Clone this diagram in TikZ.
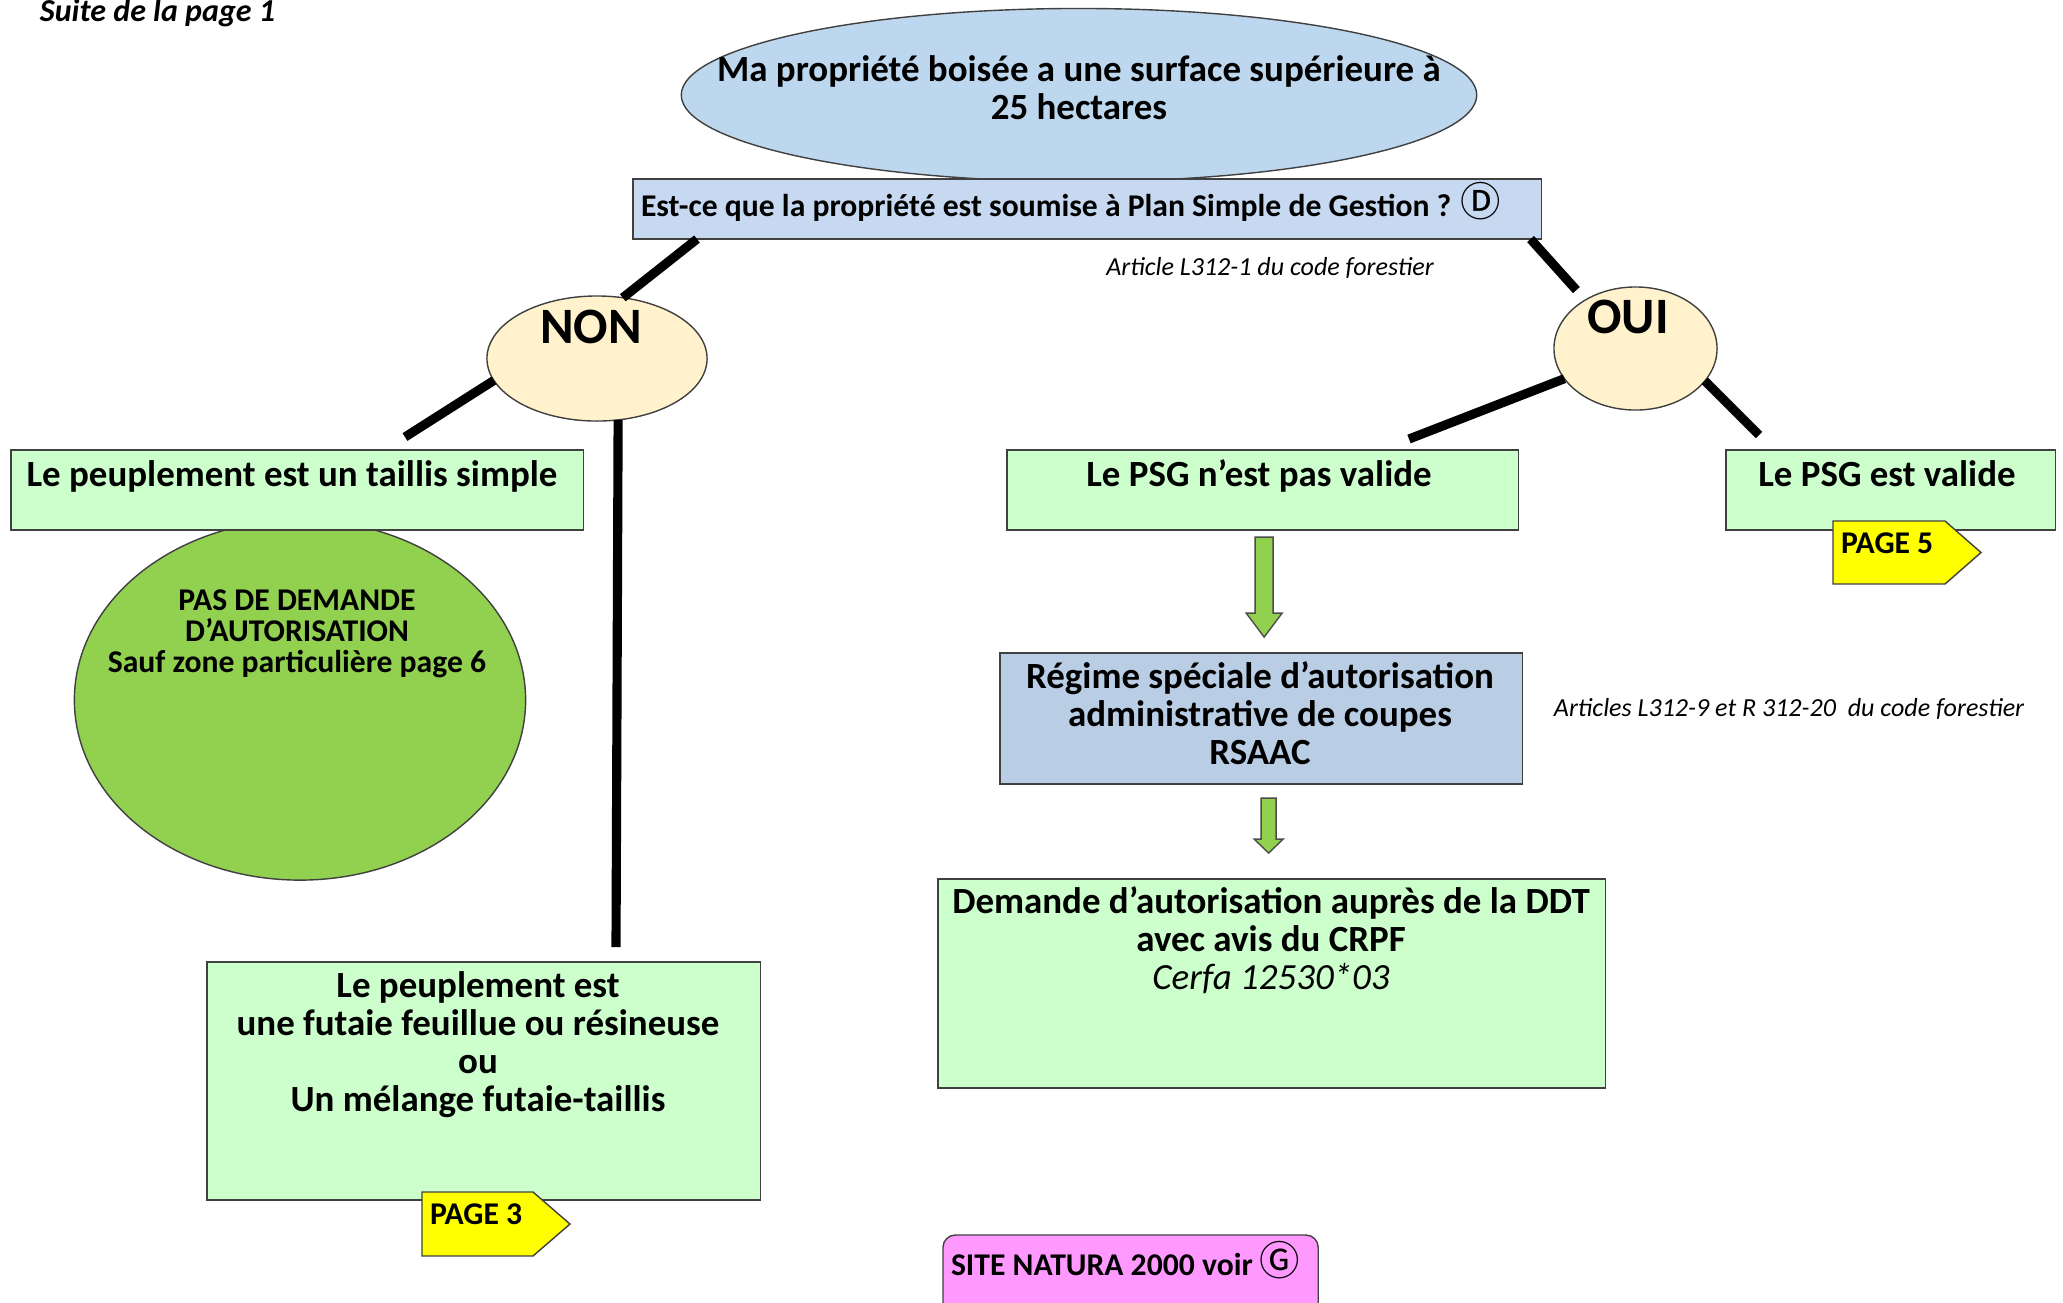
\documentclass[tikz,border=0pt]{standalone}
\usepackage{fontspec}
\setmainfont{Carlito}
\newfontfamily\cjk{Noto Sans CJK SC}
\usetikzlibrary{shapes.geometric}
\usetikzlibrary{calc}

\definecolor{ellblue}{HTML}{BDD7EE}
\definecolor{qblue}{HTML}{C6D9F1}
\definecolor{rsblue}{HTML}{B9CDE5}
\definecolor{cream}{HTML}{FFF2CC}
\definecolor{mint}{HTML}{CCFFCC}
\definecolor{leaf}{HTML}{92D050}
\definecolor{tagyellow}{HTML}{FFFF00}
\definecolor{natura}{HTML}{FF99FF}

\begin{document}
\begin{tikzpicture}[x=0.01cm,y=-0.01cm,
  every node/.style={inner sep=0pt,outer sep=0pt},
  shapebox/.style={draw=black!75,thin},
  greenbox/.style={shapebox,fill=mint,rectangle,anchor=north west},
  blob/.style={shapebox,ellipse},
  big/.style={font=\bfseries\fontsize{10.5}{10.8}\selectfont,align=center},
  mid/.style={font=\bfseries\fontsize{9}{8.8}\selectfont,align=center},
  note/.style={font=\itshape\fontsize{7.4}{8}\selectfont},
  yesno/.style={font=\bfseries\fontsize{14.5}{15}\selectfont},
  branch/.style={line width=2.6pt},
  tag/.style={draw=black!75,thin,fill=tagyellow},
  fatarrow/.style={draw=black!70,thin,fill=leaf}]
\useasboundingbox (0,0) rectangle (2063,1302);

% shapes
\node[blob,fill=ellblue,minimum width=7.95cm,minimum height=1.73cm] (surface) at (1079,95) {};
\node[shapebox,fill=qblue,anchor=north west,minimum width=9.08cm,minimum height=0.60cm] (question) at (633,179) {};
\node[blob,fill=cream,minimum width=2.20cm,minimum height=1.25cm] (non) at (597,358.5) {};
\node[blob,fill=cream,minimum width=1.63cm,minimum height=1.23cm] (oui) at (1635.5,348.5) {};
\node[blob,fill=leaf,minimum width=4.51cm,minimum height=3.60cm] (pasdemande) at (300,700) {};
\node[greenbox,minimum width=5.72cm,minimum height=0.80cm] (taillis) at (11,450) {};
\node[greenbox,minimum width=5.11cm,minimum height=0.80cm] (psgno) at (1007,450) {};
\node[greenbox,minimum width=3.29cm,minimum height=0.80cm] (psgok) at (1726,450) {};
\node[shapebox,fill=rsblue,anchor=north west,minimum width=5.22cm,minimum height=1.31cm] (rsaac) at (1000,653) {};
\node[greenbox,minimum width=6.67cm,minimum height=2.09cm] (demande) at (938,879) {};
\node[greenbox,minimum width=5.53cm,minimum height=2.38cm] (futaie) at (207,962) {};
\node[shapebox,fill=natura,rounded corners=3.5pt,anchor=north west,minimum width=3.75cm,minimum height=0.80cm] (natura) at (943,1235) {};

% page tags
\draw[tag] (1833,521) -- (1945,521) -- (1981,552.5) -- (1945,584) -- (1833,584) -- cycle;
\draw[tag] (422,1192) -- (533,1192) -- (570,1224) -- (533,1256) -- (422,1256) -- cycle;

% branches
\coordinate (tailliscut) at (405,437);
\coordinate (futaiecut) at (616,947);
\coordinate (psgnocut) at (1409,439);
\coordinate (psgokcut) at (1759,435);
\draw[branch] ($(question.south west)+(64,0)$) -- (non.67);
\draw[branch,shorten >=3.8pt] ($(question.south east)+(-11,0)$) -- (oui.136);
\draw[branch] (non.192) -- (tailliscut);
\draw[branch] (non.289) -- (futaiecut);
\draw[branch] (oui.203) -- (psgnocut);
\draw[branch] (oui.335) -- (psgokcut);

% green arrows
\draw[fatarrow] ($(psgno.south)+(-7.5,7)$) -- ++(18,0) -- ++(0,76) -- ++(9,0)
  -- ++(-18,24) -- ++(-18,-24) -- ++(9,0) -- cycle;
\draw[fatarrow] ($(rsaac.south)+(0,14)$) -- ++(15,0) -- ++(0,41) -- ++(7,0)
  -- ++(-14.5,14) -- ++(-14.5,-14) -- ++(7,0) -- cycle;

% texts (multi-line nodes sit on their last baseline)
\node[font=\bfseries\itshape\fontsize{9.1}{9.1}\selectfont,anchor=base west] (suite) at (40,21) {Suite de la page 1};
\node[big,anchor=base] (surfacetxt) at (1079,119) {Ma propriété boisée a une surface supérieure à\\25 hectares};
\node[font=\bfseries\fontsize{9}{9}\selectfont,anchor=base west] (questiontxt) at (641,216)
  {Est-ce que la propriété est soumise à Plan Simple de Gestion ? {\cjk\mdseries\fontsize{11.5}{11.5}\selectfont Ⓓ}};
\node[note,anchor=base] (article) at (1270,275) {Article L312-1 du code forestier};
\node[yesno,anchor=base] (nontxt) at (591,343) {NON};
\node[yesno,anchor=base] (ouitxt) at (1628,333) {OUI};
\node[big,anchor=base] (taillistxt) at (292,486) {Le peuplement est un taillis simple};
\node[mid,anchor=base] (pasdemandetxt) at (297,672) {PAS DE DEMANDE\\D’AUTORISATION\\Sauf zone particulière page 6};
\node[big,anchor=base] (psgnotxt) at (1259,486) {Le PSG n’est pas valide};
\node[big,anchor=base] (psgoktxt) at (1887,486) {Le PSG est valide};
\node[mid,anchor=base west] (page5) at (1841,553) {PAGE 5};
\node[big,anchor=base] (rsaactxt) at (1260,764) {Régime spéciale d’autorisation\\administrative de coupes\\RSAAC};
\node[note,anchor=base] (articles) at (1789,716) {Articles L312-9 et R 312-20\ \ du code forestier};
\node[big,anchor=base] (demandetxt) at (1271,989) {Demande d’autorisation auprès de la DDT\\avec avis du CRPF\\{\mdseries\itshape Cerfa 12530*03}};
\node[big,anchor=base] (futaietxt) at (478,1111) {Le peuplement est\\une futaie feuillue ou résineuse\\ou\\Un mélange futaie-taillis};
\node[mid,anchor=base west] (page3) at (430,1224) {PAGE 3};
\node[mid,anchor=base west] (naturatxt) at (951,1275) {SITE NATURA 2000 voir {\cjk\mdseries\fontsize{11.5}{11.5}\selectfont Ⓖ}};
\end{tikzpicture}
\end{document}
